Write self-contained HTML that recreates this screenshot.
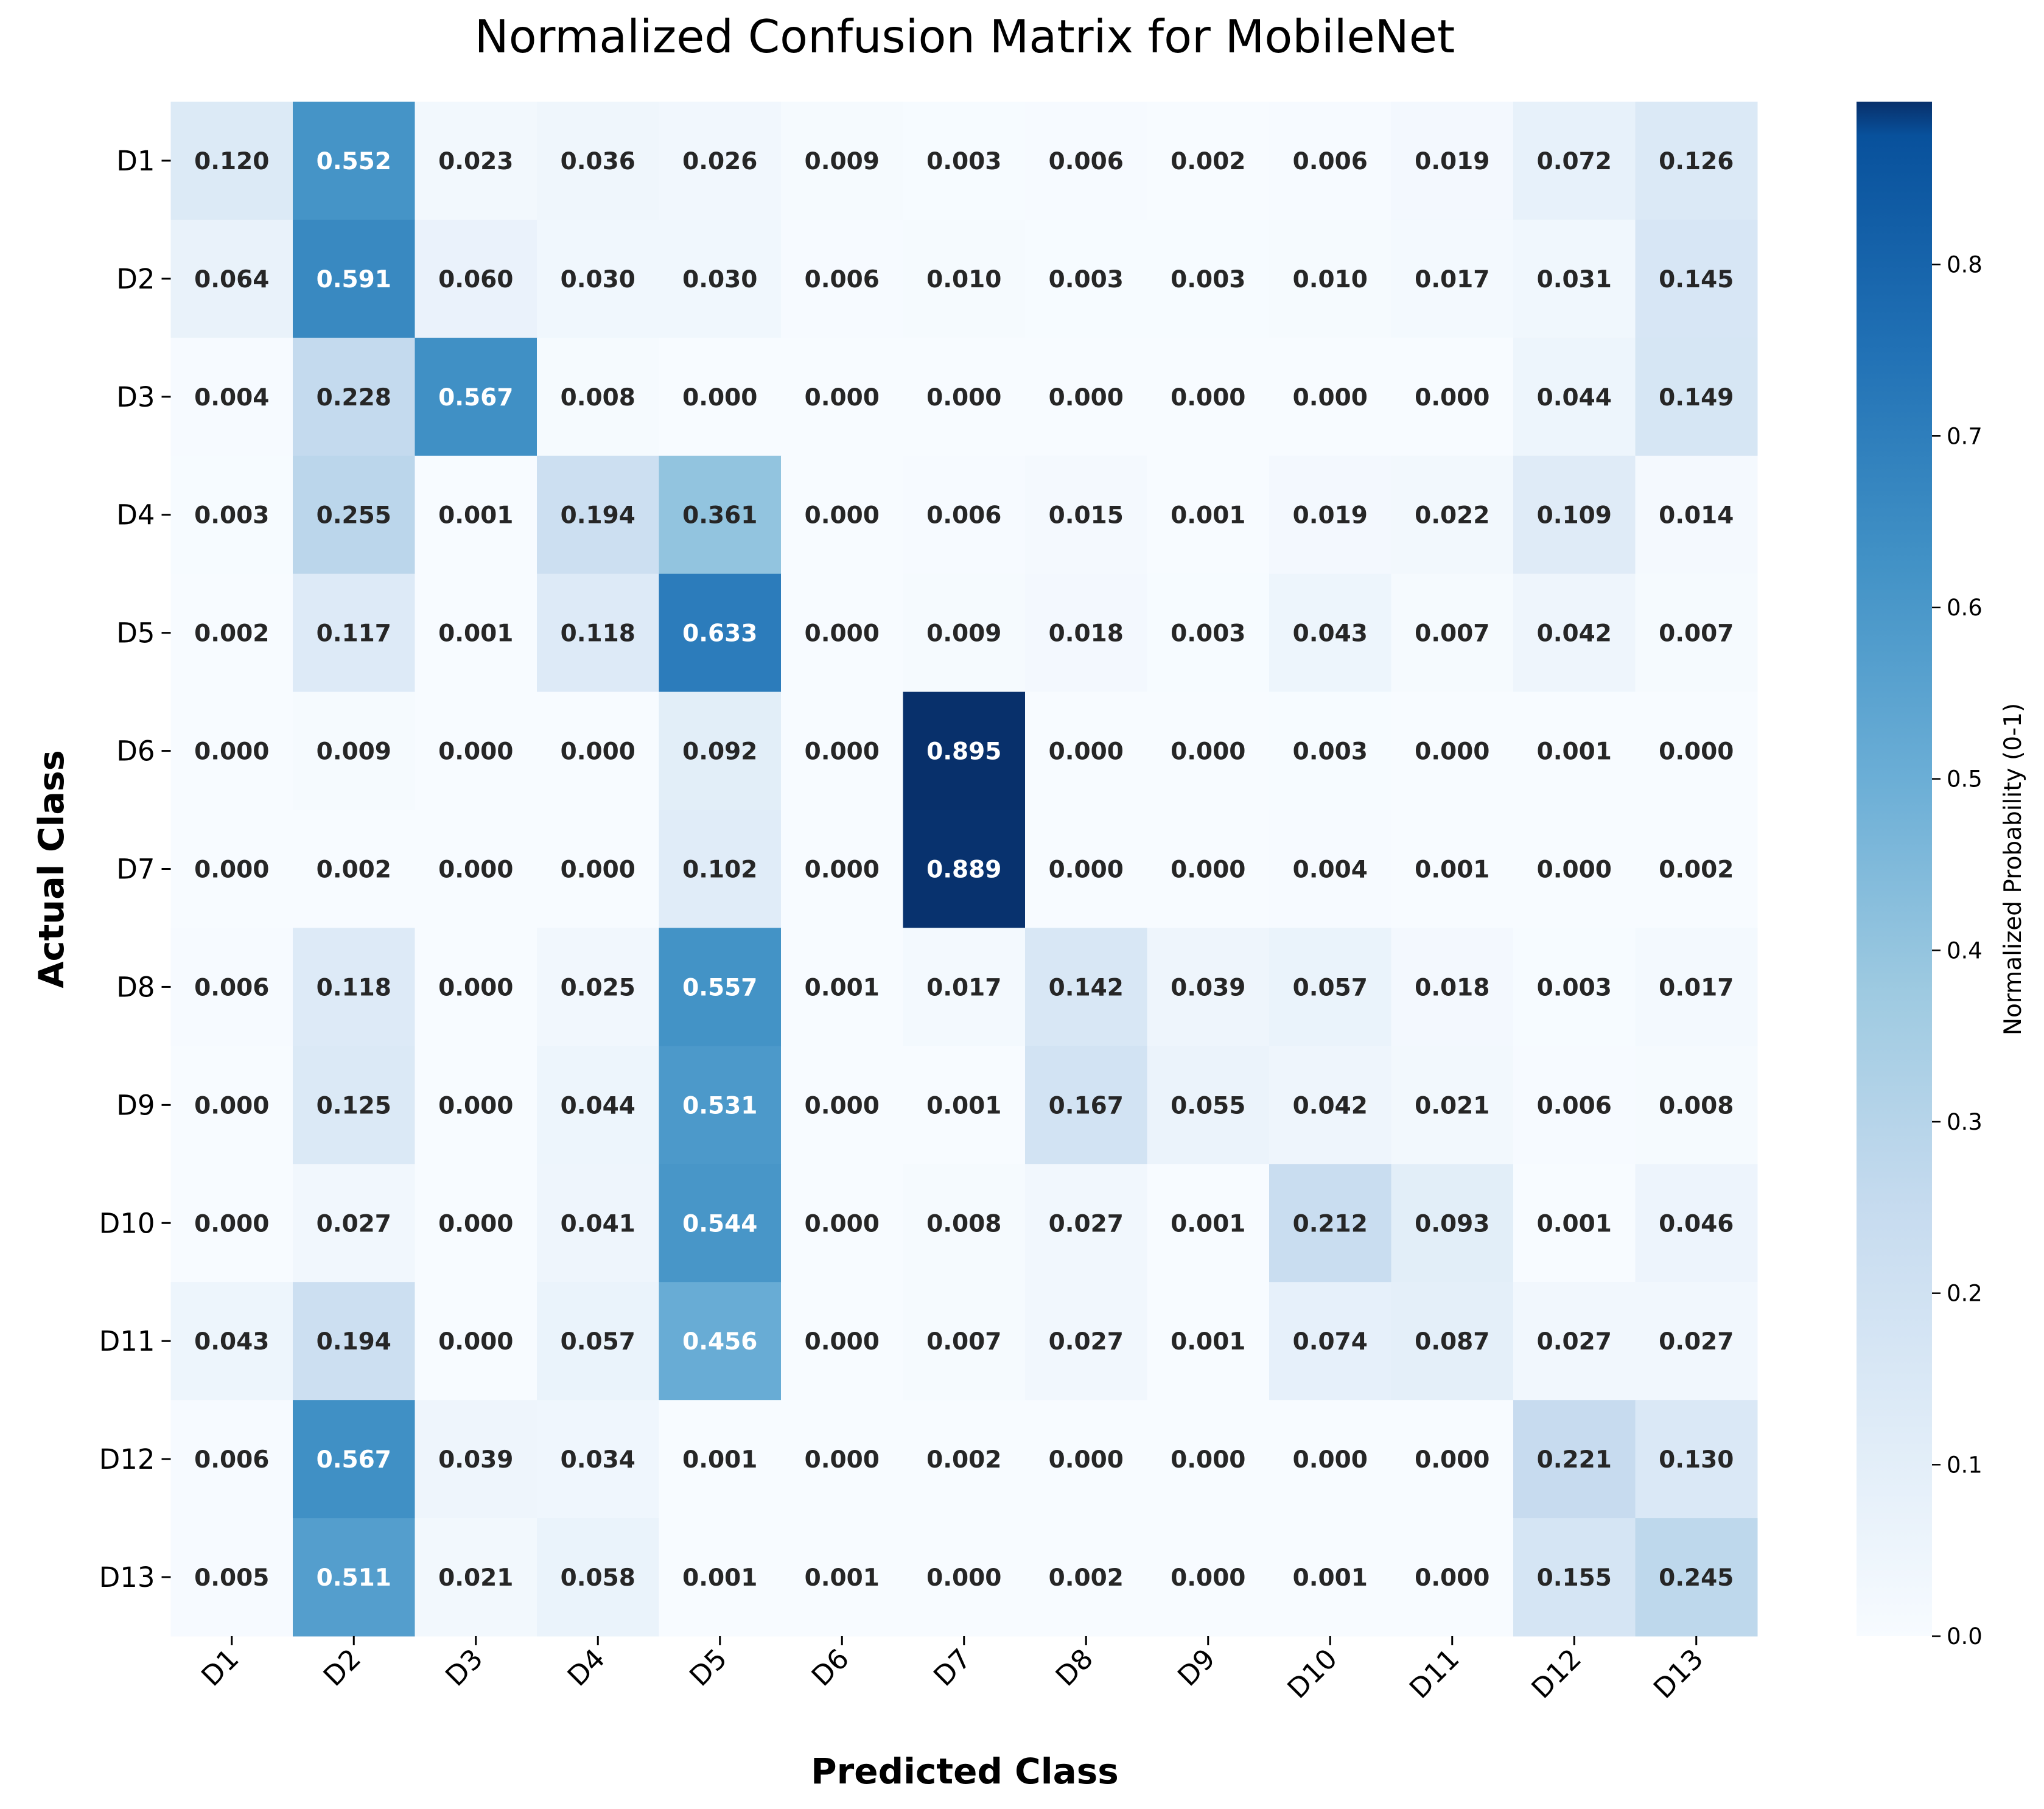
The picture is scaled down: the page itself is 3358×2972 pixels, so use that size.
<!DOCTYPE html>
<html><head><meta charset="utf-8"><style>
html,body{margin:0;padding:0;background:#fff;}
svg{display:block;font-family:"DejaVu Sans","Liberation Sans",sans-serif;}
</style></head>
<body>
<svg id="chart" width="3358" height="2972" viewBox="0 0 3358 2972">
<defs>
<linearGradient id="cbgrad" x1="0" y1="1" x2="0" y2="0">
<stop offset="0" stop-color="#f7fbff"/><stop offset="0.1397" stop-color="#deebf7"/><stop offset="0.2793" stop-color="#c6dbef"/><stop offset="0.419" stop-color="#9ecae1"/><stop offset="0.5587" stop-color="#6baed6"/><stop offset="0.6983" stop-color="#4292c6"/><stop offset="0.838" stop-color="#2171b5"/><stop offset="0.9777" stop-color="#08519c"/><stop offset="1" stop-color="#08306b"/>
</linearGradient>
</defs>
<text x="1585" y="86" text-anchor="middle" font-size="75" fill="#000">Normalized Confusion Matrix for MobileNet</text>
<g id="cells"></g>
<g id="axes"></g>
<text x="1585" y="2930" text-anchor="middle" font-size="58" font-weight="bold">Predicted Class</text>
<text transform="translate(104,1428) rotate(-90)" text-anchor="middle" font-size="57" font-weight="bold">Actual Class</text>
<rect x="3050" y="167" width="124" height="2521" fill="url(#cbgrad)"/>
<g id="cbticks"></g>
<text transform="translate(3320,1428) rotate(-90)" text-anchor="middle" font-size="39">Normalized Probability (0-1)</text>
</svg>
<script>
const classes = ["D1","D2","D3","D4","D5","D6","D7","D8","D9","D10","D11","D12","D13"];
const matrix = [
[0.120,0.552,0.023,0.036,0.026,0.009,0.003,0.006,0.002,0.006,0.019,0.072,0.126],
[0.064,0.591,0.060,0.030,0.030,0.006,0.010,0.003,0.003,0.010,0.017,0.031,0.145],
[0.004,0.228,0.567,0.008,0.000,0.000,0.000,0.000,0.000,0.000,0.000,0.044,0.149],
[0.003,0.255,0.001,0.194,0.361,0.000,0.006,0.015,0.001,0.019,0.022,0.109,0.014],
[0.002,0.117,0.001,0.118,0.633,0.000,0.009,0.018,0.003,0.043,0.007,0.042,0.007],
[0.000,0.009,0.000,0.000,0.092,0.000,0.895,0.000,0.000,0.003,0.000,0.001,0.000],
[0.000,0.002,0.000,0.000,0.102,0.000,0.889,0.000,0.000,0.004,0.001,0.000,0.002],
[0.006,0.118,0.000,0.025,0.557,0.001,0.017,0.142,0.039,0.057,0.018,0.003,0.017],
[0.000,0.125,0.000,0.044,0.531,0.000,0.001,0.167,0.055,0.042,0.021,0.006,0.008],
[0.000,0.027,0.000,0.041,0.544,0.000,0.008,0.027,0.001,0.212,0.093,0.001,0.046],
[0.043,0.194,0.000,0.057,0.456,0.000,0.007,0.027,0.001,0.074,0.087,0.027,0.027],
[0.006,0.567,0.039,0.034,0.001,0.000,0.002,0.000,0.000,0.000,0.000,0.221,0.130],
[0.005,0.511,0.021,0.058,0.001,0.001,0.000,0.002,0.000,0.001,0.000,0.155,0.245]
];
const cbTicks = [0.0,0.1,0.2,0.3,0.4,0.5,0.6,0.7,0.8];
const vmin = 0, vmax = 0.895;

const L=280.5, R=2887, T=167, B=2688;
const n = classes.length;
const cw=(R-L)/n, ch=(B-T)/n;
const xPos = i => L + i*cw;
const yPos = j => T + j*ch;
const cbY = v => B - (v-vmin)/(vmax-vmin)*(B-T);

const stops=[[247,251,255],[222,235,247],[198,219,239],[158,202,225],[107,174,214],[66,146,198],[33,113,181],[8,81,156],[8,48,107]];
function color(v){
  let t=Math.max(0,Math.min(1,(v-vmin)/(vmax-vmin)))*8;
  let i=Math.min(7,Math.floor(t)), f=t-i;
  const a=stops[i], b=stops[i+1];
  return a.map((c,k)=>Math.round(c+(b[k]-c)*f));
}
function lum(c){
  const l=c.map(x=>{x/=255;return x<=0.03928?x/12.92:Math.pow((x+0.055)/1.055,2.4);});
  return 0.2126*l[0]+0.7152*l[1]+0.0722*l[2];
}
const NS="http://www.w3.org/2000/svg";
const cells=document.getElementById('cells');
const axes=document.getElementById('axes');
matrix.forEach((row,j)=>{
  row.forEach((v,i)=>{
    const c=color(v);
    const r=document.createElementNS(NS,'rect');
    r.setAttribute('x',xPos(i));r.setAttribute('y',yPos(j));
    r.setAttribute('width',cw+0.5);r.setAttribute('height',ch+0.5);
    r.setAttribute('fill','rgb('+c.join(',')+')');
    
    
    cells.appendChild(r);
    const t=document.createElementNS(NS,'text');
    t.setAttribute('x',xPos(i)+cw/2);t.setAttribute('y',yPos(j)+ch/2+14);
    t.setAttribute('text-anchor','middle');t.setAttribute('font-size','39');
    t.setAttribute('font-weight','bold');
    t.setAttribute('fill',lum(c)<0.408?'#ffffff':'#262626');
    t.textContent=v.toFixed(3);
    
    
    cells.appendChild(t);
  });
});
classes.forEach((name,k)=>{
  const yc=yPos(k)+ch/2;
  const tk=document.createElementNS(NS,'line');
  tk.setAttribute('x1',L-15);tk.setAttribute('x2',L);tk.setAttribute('y1',yc);tk.setAttribute('y2',yc);
  tk.setAttribute('stroke','#000');tk.setAttribute('stroke-width','3');
  
  
  axes.appendChild(tk);
  const yl=document.createElementNS(NS,'text');
  yl.setAttribute('x',L-26);yl.setAttribute('y',yc+16);
  yl.setAttribute('text-anchor','end');yl.setAttribute('font-size','45');
  yl.textContent=name;
  
  
  axes.appendChild(yl);
  const xc=xPos(k)+cw/2;
  const tx=document.createElementNS(NS,'line');
  tx.setAttribute('x1',xc);tx.setAttribute('x2',xc);tx.setAttribute('y1',B);tx.setAttribute('y2',B+15);
  tx.setAttribute('stroke','#000');tx.setAttribute('stroke-width','3');
  
  
  axes.appendChild(tx);
  const xl=document.createElementNS(NS,'text');
  xl.setAttribute('transform','translate('+(xc+14)+','+(B+40)+') rotate(-45)');
  xl.setAttribute('text-anchor','end');xl.setAttribute('font-size','45');
  xl.textContent=name;
  
  
  axes.appendChild(xl);
});
const cbg=document.getElementById('cbticks');
cbTicks.forEach(v=>{
  const y=cbY(v);
  const l=document.createElementNS(NS,'line');
  l.setAttribute('x1',3174);l.setAttribute('x2',3188);l.setAttribute('y1',y);l.setAttribute('y2',y);
  l.setAttribute('stroke','#000');l.setAttribute('stroke-width','2.5');
  
  
  cbg.appendChild(l);
  const t=document.createElementNS(NS,'text');
  t.setAttribute('x',3198);t.setAttribute('y',y+13);t.setAttribute('font-size','37');
  t.textContent=v.toFixed(1);
  
  
  cbg.appendChild(t);
});
</script>
</body></html>
